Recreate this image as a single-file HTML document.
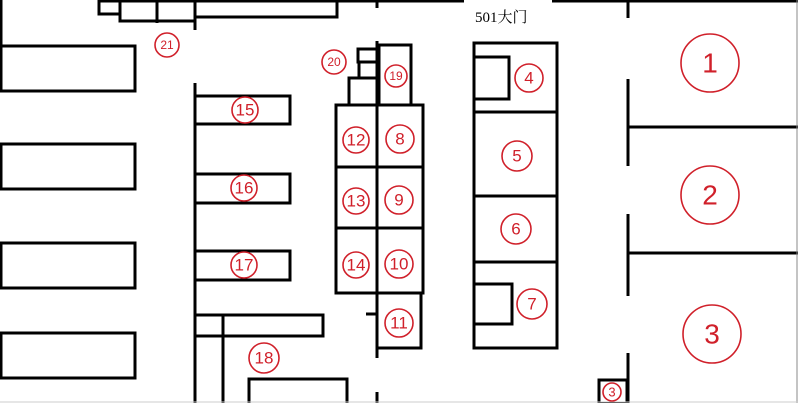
<!DOCTYPE html>
<html><head><meta charset="utf-8"><style>
html,body{margin:0;padding:0;background:#fff;}
svg{display:block;}
.c{fill:none;stroke:#d0202a;stroke-width:1.6;}
.t{fill:#d0202a;font-family:"Liberation Sans","DejaVu Sans",sans-serif;text-anchor:middle;dominant-baseline:central;}
</style></head><body>
<svg width="798" height="403" viewBox="0 0 798 403" xmlns="http://www.w3.org/2000/svg">
<rect width="798" height="403" fill="#fff"/>
<g stroke="#000" stroke-width="3" fill="none">
<!-- top line -->
<line x1="98" y1="1" x2="464" y2="1"/>
<line x1="552" y1="1" x2="798" y2="1"/>
<line x1="1" y1="0" x2="1" y2="46"/>
<!-- top small boxes -->
<rect x="99" y="1" width="21" height="13"/>
<rect x="120" y="1" width="75" height="20"/>
<line x1="157" y1="1" x2="157" y2="23"/>
<line x1="195" y1="0" x2="195" y2="30"/>
<rect x="195" y="1" width="142" height="16"/>
<line x1="377" y1="0" x2="377" y2="8"/>
<!-- left rects -->
<rect x="1" y="46" width="134" height="45"/>
<rect x="1" y="144" width="134" height="45"/>
<rect x="1" y="243" width="134" height="45"/>
<rect x="1" y="333" width="134" height="45"/>
<!-- vertical 195 -->
<line x1="195" y1="83" x2="195" y2="403"/>
<rect x="195" y="96" width="95" height="28"/>
<rect x="195" y="174" width="95" height="29"/>
<rect x="195" y="251" width="95" height="29"/>
<rect x="195" y="315" width="128" height="21"/>
<line x1="223" y1="315" x2="223" y2="403"/>
<rect x="249" y="379" width="98" height="26"/>
<!-- center -->
<line x1="377" y1="41" x2="377" y2="358"/>
<rect x="379" y="45" width="32" height="60"/>
<rect x="358" y="49" width="19" height="13"/>
<rect x="359" y="62" width="18" height="16"/>
<rect x="349" y="78" width="28" height="27"/>
<rect x="336" y="105" width="87" height="188"/>
<line x1="336" y1="167" x2="423" y2="167"/>
<line x1="336" y1="228" x2="423" y2="228"/>
<rect x="377" y="293" width="44" height="55"/>
<line x1="366" y1="314" x2="377" y2="314"/>
<line x1="377" y1="392" x2="377" y2="403"/>
<!-- right column -->
<rect x="474" y="43" width="83" height="305"/>
<line x1="474" y1="112" x2="557" y2="112"/>
<line x1="474" y1="196" x2="557" y2="196"/>
<line x1="474" y1="262" x2="557" y2="262"/>
<rect x="474" y="57" width="35" height="42"/>
<rect x="474" y="284" width="38" height="40"/>
<!-- right rooms -->
<line x1="628" y1="0" x2="628" y2="18"/>
<line x1="628" y1="79" x2="628" y2="166"/>
<line x1="628" y1="127" x2="798" y2="127"/>
<line x1="628" y1="214" x2="628" y2="296"/>
<line x1="628" y1="253" x2="798" y2="253"/>
<line x1="628" y1="353" x2="628" y2="403"/>
<rect x="599" y="380" width="28" height="24"/>
</g>
<line x1="797" y1="0" x2="797" y2="403" stroke="#888" stroke-width="1"/>
<line x1="0" y1="402" x2="798" y2="402" stroke="#ccc" stroke-width="1"/>
<text x="475" y="22" font-family="Liberation Serif,'Noto Serif CJK SC',serif" font-size="15" fill="#000">501大门</text>
<g>
<circle class="c" cx="710" cy="63" r="29" stroke-width="2.2"/><text class="t" x="710" y="63" font-size="28">1</text>
<circle class="c" cx="710" cy="195" r="29" stroke-width="2.2"/><text class="t" x="710" y="195" font-size="28">2</text>
<circle class="c" cx="712" cy="334" r="29" stroke-width="2.2"/><text class="t" x="712" y="334" font-size="28">3</text>
<circle class="c" cx="529" cy="78" r="14"/><text class="t" x="529" y="78" font-size="17">4</text>
<circle class="c" cx="517" cy="156" r="15"/><text class="t" x="517" y="156" font-size="17">5</text>
<circle class="c" cx="516" cy="229" r="15"/><text class="t" x="516" y="229" font-size="17">6</text>
<circle class="c" cx="532" cy="304" r="15"/><text class="t" x="532" y="304" font-size="17">7</text>
<circle class="c" cx="400" cy="139" r="14"/><text class="t" x="400" y="139" font-size="17">8</text>
<circle class="c" cx="356" cy="140" r="13"/><text class="t" x="356" y="140" font-size="17">12</text>
<circle class="c" cx="399" cy="200" r="14"/><text class="t" x="399" y="200" font-size="17">9</text>
<circle class="c" cx="356" cy="201" r="13"/><text class="t" x="356" y="201" font-size="17">13</text>
<circle class="c" cx="399" cy="264" r="14"/><text class="t" x="399" y="264" font-size="17">10</text>
<circle class="c" cx="356" cy="265" r="13"/><text class="t" x="356" y="265" font-size="17">14</text>
<circle class="c" cx="399" cy="323" r="14"/><text class="t" x="399" y="323" font-size="17">11</text>
<circle class="c" cx="245" cy="110" r="13"/><text class="t" x="245" y="110" font-size="17">15</text>
<circle class="c" cx="244" cy="188" r="13"/><text class="t" x="244" y="188" font-size="17">16</text>
<circle class="c" cx="244" cy="265" r="13"/><text class="t" x="244" y="265" font-size="17">17</text>
<circle class="c" cx="264" cy="358" r="15" stroke-width="2.4"/><text class="t" x="264" y="358" font-size="17">18</text>
<circle class="c" cx="396" cy="76" r="11" stroke-width="2"/><text class="t" x="396" y="76" font-size="12">19</text>
<circle class="c" cx="334" cy="62" r="12"/><text class="t" x="334" y="62" font-size="12">20</text>
<circle class="c" cx="167" cy="45" r="12"/><text class="t" x="167" y="45" font-size="12">21</text>
<circle class="c" cx="612" cy="392" r="9"/><text class="t" x="612" y="392" font-size="13">3</text>
</g>
</svg>
</body></html>
